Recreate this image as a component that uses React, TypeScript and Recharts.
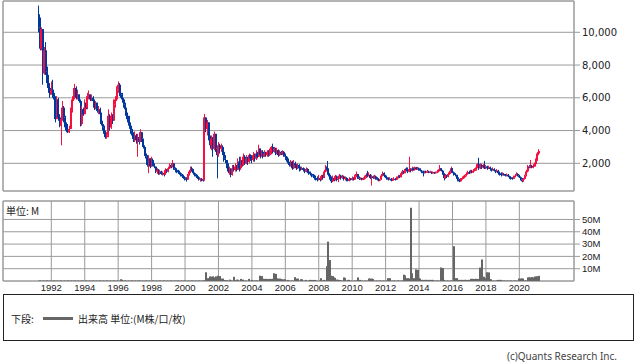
import React from 'react';
import { ComposedChart, Bar, XAxis, YAxis, CartesianGrid, ReferenceArea } from 'recharts';

// monthly candles, first month = Apr 1991
const startYear = 1991;
const startMonth = 4;
const firstOpen = 11100;

const closes = [
  10300, 9000, 10200, 7500, 8900, 7600, 6900, 6600, 6200, // 1991
  6500, 6100, 5900, 4700, 5900, 4800, 4300, 4700, 5400, 4800, 4200, 4050,
  3900, 4100, 5200, 5900, 6400, 6600, 6000, 6200, 5800, 4400, 5300, 5000,
  5700, 5400, 6100, 6200, 5900, 6000, 5800, 5400, 5700, 5200, 5300, 5000,
  4400, 4200, 3800, 3600, 3700, 4900, 4200, 4900, 4600, 5600, 5900, 6500, // 1995
  6800, 6300, 6200, 5900, 5600, 5300, 4900, 4700, 4300, 4000, 3700, 3500,
  3700, 3400, 3600, 3300, 3900, 3500, 3000, 2600, 2400, 1900, 2300, 1800,
  2200, 1900, 1800, 1500, 1600, 1400, 1500, 1350, 1400, 1300, 1600, 1500,
  1700, 1900, 1800, 2000, 1700, 1600, 1550, 1450, 1400, 1300, 1200, 1150,
  1050, 1000, 1300, 1500, 1700, 1600, 1400, 1300, 1200, 1150, 1050, 1050, // 2000
  1000, 950, 4800, 4100, 4500, 3600, 3100, 3500, 2900, 3800, 2900, 2500,
  3100, 2900, 3000, 2700, 2300, 2200, 1900, 1500, 1600, 1300, 1700, 1600,
  1800, 1600, 2100, 1700, 2200, 1900, 2400, 2000, 2300, 2100, 2500, 2300,
  2200, 2500, 2300, 2600, 2400, 2900, 2500, 2700, 2400, 2600, 2500, 2700,
  2500, 2800, 3000, 2700, 2900, 2600, 2800, 2500, 2700, 2600, 2700, 2500, // 2005
  2400, 2200, 2000, 1900, 2100, 1700, 2000, 1900, 1700, 1900, 1700, 1650,
  1700, 1600, 1500, 1650, 1500, 1400, 1350, 1250, 1200, 1100, 1050, 1000,
  1100, 1000, 1200, 1100, 1500, 1800, 1600, 1300, 1100, 900, 1100, 1000,
  1200, 1000, 1150, 1250, 1100, 1200, 1050, 1100, 1000, 950, 1050, 1000,
  1100, 1000, 1200, 1350, 1150, 1050, 1100, 1000, 1050, 1150, 1300, 1250, // 2010
  1300, 1100, 1200, 1100, 1200, 1100, 1000, 950, 1000, 1250, 1400, 1250,
  1150, 1100, 1000, 1050, 950, 1000, 1050, 1000, 1100, 1200, 1150, 1350,
  1500, 1400, 1650, 1600, 1500, 1650, 1550, 1700, 1600, 1750, 1650, 1700,
  1650, 1550, 1500, 1400, 1500, 1450, 1500, 1450, 1480, 1400, 1450, 1420,
  1450, 1500, 1550, 1700, 1550, 1400, 1100, 1250, 1200, 1350, 1450, 1700, // 2015
  1450, 1350, 1300, 1150, 1000, 900, 1050, 1100, 1150, 1250, 1350, 1450,
  1400, 1500, 1450, 1550, 1600, 1750, 1950, 1700, 1900, 1750, 1850, 1700,
  1800, 1700, 1750, 1650, 1600, 1650, 1550, 1500, 1550, 1400, 1350, 1300,
  1350, 1300, 1250, 1300, 1200, 1150, 1100, 1050, 1150, 1250, 1350, 1250,
  1150, 1000, 900, 1050, 1250, 1500, 1800, 1750, 1850, 1750, 1800, 1950, // 2020
  2200, 2600, 2750,
];

const highs = [
  11630, 10900, 10300, 9300, 9100, 9400, 7900, 7400, 6900,
  7000, 7100, 6300, 6100, 6100, 6000, 5000, 4900, 5800, 5500, 4900, 4500,
  4400, 4300, 5400, 6100, 6600, 6850, 6700, 6500, 6200, 5900, 5500, 5400,
  5900, 5900, 6300, 6450, 6200, 6200, 6100, 5900, 5800, 5700, 5500, 5400,
  5100, 4600, 4300, 4000, 3900, 5300, 5000, 5100, 5000, 5900, 6100, 6700,
  7000, 6900, 6600, 6300, 6000, 5700, 5400, 5100, 4900, 4500, 4100, 3900,
  3950, 3800, 3800, 3700, 4080, 3900, 3400, 3100, 2700, 2500, 2500, 2300,
  2400, 2300, 2000, 1800, 1700, 1650, 1600, 1550, 1500, 1450, 1700, 1650,
  1800, 2000, 2000, 2200, 2000, 1750, 1700, 1600, 1550, 1450, 1350, 1300,
  1200, 1150, 1350, 1600, 1800, 1800, 1650, 1450, 1350, 1300, 1200, 1100,
  1100, 1080, 5020, 4800, 4650, 4500, 3700, 3700, 3600, 3940, 3800, 3000,
  3300, 3200, 3200, 3100, 2800, 2500, 2200, 2000, 1800, 1700, 1900, 1900,
  2000, 1900, 2300, 2400, 2400, 2300, 2600, 2500, 2500, 2400, 2600, 2550,
  2500, 2700, 2600, 2800, 2700, 3140, 2900, 2800, 2800, 2800, 2700, 2800,
  2800, 2900, 3050, 3200, 3000, 2950, 2950, 2850, 2800, 2750, 2800, 2750,
  2600, 2450, 2300, 2100, 2200, 2150, 2200, 2100, 1950, 2000, 1950, 1800,
  1800, 1750, 1700, 1750, 1700, 1550, 1500, 1400, 1350, 1300, 1250, 1200,
  1300, 1200, 1300, 1300, 1600, 1900, 2140, 1700, 1400, 1200, 1250, 1200,
  1300, 1250, 1250, 1350, 1300, 1300, 1250, 1200, 1150, 1100, 1150, 1100,
  1200, 1150, 1300, 1500, 1350, 1200, 1150, 1120, 1150, 1250, 1400, 1540,
  1450, 1350, 1300, 1250, 1300, 1250, 1150, 1100, 1050, 1350, 1500, 1450,
  1300, 1200, 1150, 1150, 1100, 1080, 1150, 1100, 1200, 1300, 1280, 1400,
  1600, 1550, 1700, 1750, 1750, 2400, 1700, 1800, 1750, 1800, 1780, 1780,
  1750, 1700, 1600, 1550, 1550, 1550, 1600, 1550, 1550, 1500, 1500, 1480,
  1500, 1600, 1650, 1900, 1700, 1600, 1400, 1350, 1300, 1450, 1550, 1800,
  1700, 1500, 1400, 1300, 1200, 1050, 1100, 1200, 1250, 1300, 1450, 1550,
  1550, 1600, 1600, 1650, 1700, 1850, 2000, 2340, 2000, 1950, 1950, 2150,
  1900, 1850, 1850, 1800, 1700, 1750, 1700, 1600, 1650, 1600, 1500, 1450,
  1450, 1400, 1350, 1380, 1350, 1250, 1200, 1150, 1250, 1350, 1450, 1400,
  1300, 1200, 1100, 1100, 1300, 1600, 1900, 1900, 2200, 1900, 1950, 2050,
  2300, 2700, 2860,
];

const lows = [
  10000, 8900, 8900, 6800, 7400, 7400, 6800, 6300, 6000,
  6300, 6000, 5700, 4500, 4700, 4600, 4200, 3100, 4600, 4500, 4000, 3900,
  3850, 3850, 4100, 5100, 5800, 6200, 5900, 5900, 5700, 4250, 4300, 4900,
  5000, 5300, 5300, 5900, 5800, 5800, 5700, 5250, 5300, 5100, 5000, 4800,
  4300, 4000, 3600, 3500, 3500, 3600, 4000, 4100, 4400, 4600, 5400, 5800,
  6300, 6100, 6000, 5700, 5400, 5100, 4700, 4500, 4100, 3800, 3500, 3300,
  3300, 3200, 2400, 3150, 3300, 3300, 2900, 2450, 2300, 1800, 1400, 1700,
  1800, 1850, 1700, 1400, 1350, 1300, 1300, 1300, 1250, 1200, 1300, 1400,
  1450, 1650, 1700, 1750, 1600, 1450, 1400, 1350, 1300, 1200, 1100, 1050,
  950, 880, 980, 1250, 1400, 1500, 1300, 1200, 1100, 1050, 950, 880,
  900, 880, 950, 3900, 3700, 3400, 2900, 2800, 2400, 2800, 2700, 1080,
  2400, 2600, 2700, 2500, 2100, 2000, 1700, 1400, 1300, 1150, 1250, 1500,
  1500, 1500, 1600, 1500, 1600, 1800, 1850, 1900, 1950, 1900, 2000, 2150,
  2000, 2100, 2100, 2200, 2300, 2400, 2300, 2400, 2300, 2400, 2400, 2400,
  2400, 2450, 2550, 2600, 2650, 2500, 2550, 2400, 2450, 2500, 2500, 2400,
  2200, 2100, 1900, 1800, 1800, 1600, 1650, 1800, 1600, 1650, 1500, 1550,
  1600, 1500, 1400, 1450, 1400, 1300, 1250, 1150, 1100, 1000, 950, 900,
  950, 900, 950, 1000, 1100, 1450, 1500, 1200, 1000, 800, 850, 900,
  950, 900, 850, 1050, 1000, 1050, 950, 950, 900, 900, 900, 950,
  950, 950, 1000, 1150, 1050, 980, 1000, 960, 980, 1000, 1100, 1150,
  1200, 1050, 640, 1050, 1050, 1000, 950, 900, 900, 1000, 1200, 1150,
  1100, 1000, 950, 980, 900, 920, 980, 950, 980, 1080, 1100, 1150,
  1300, 1350, 1400, 1500, 1400, 1450, 1450, 1500, 1550, 1550, 1600, 1600,
  1550, 1500, 1400, 1200, 1380, 1400, 1420, 1400, 1400, 1350, 1380, 1360,
  1380, 1400, 1450, 1500, 1500, 1300, 960, 1050, 1100, 1150, 1300, 1400,
  1400, 1250, 1200, 1050, 900, 850, 880, 1000, 1050, 1100, 1200, 1300,
  1350, 1380, 1400, 1420, 1500, 1550, 1700, 1600, 1650, 1650, 1700, 1650,
  1650, 1600, 1650, 1550, 1500, 1550, 1500, 1400, 1450, 1300, 1250, 1200,
  1250, 1250, 1200, 1200, 1150, 1050, 1000, 1000, 1050, 1150, 1250, 1200,
  1100, 950, 840, 880, 1000, 1200, 1450, 1700, 1700, 1700, 1700, 1800,
  1900, 2150, 2500,
];

// monthly volume, millions
const volumes = [
  0.3, 0.3, 0.3, 0.3, 0.3, 0.3, 0.3, 0.3, 0.3, // 1991
  0.3, 0.3, 0.3, 0.3, 0.3, 0.3, 0.3, 0.3, 0.3, 0.3, 0.3, 0.3,
  0.3, 0.3, 0.3, 0.3, 0.3, 0.3, 0.3, 0.3, 0.3, 0.3, 0.3, 0.3,
  0.3, 0.3, 0.3, 0.3, 0.3, 0.3, 0.3, 0.3, 0.3, 0.3, 0.3, 0.3,
  0.3, 0.3, 0.3, 0.3, 0.3, 0.3, 0.3, 0.3, 0.3, 0.3, 0.3, 0.3,
  0.3, 0.3, 1.4, 1.0, 0.3, 0.3, 0.3, 0.3, 0.3, 0.3, 0.3, 0.3, // 1996
  0.3, 0.3, 0.3, 0.3, 0.3, 0.3, 0.3, 0.3, 0.3, 0.3, 0.3, 0.3,
  0.3, 0.3, 0.3, 0.3, 0.3, 0.3, 0.3, 0.3, 0.3, 0.3, 0.3, 0.3,
  0.3, 0.3, 0.3, 0.3, 0.3, 0.3, 0.3, 0.3, 0.3, 0.3, 0.3, 0.3,
  0.3, 0.3, 0.3, 0.3, 0.3, 0.3, 0.3, 0.3, 0.3, 0.3, 0.3, 0.3,
  0.3, 0.3, 0.5, 7.1, 2.3, 2.3, 3.7, 3.5, 3.8, 3.0, 3.7, 1.0, // 2001
  4.3, 4.0, 2.0, 2.0, 0.5, 0.7, 0.6, 0.3, 1.1, 0.3, 0.3, 3.4,
  0.6, 1.1, 1.0, 0.3, 1.7, 0.4, 1.1, 0.3, 0.3, 0.2, 1.7, 0.3,
  0.9, 0.3, 0.4, 0.2, 0.5, 0.3, 4.3, 4.0, 1.7, 1.7, 1.8, 1.6,
  1.7, 1.5, 1.7, 1.8, 6.3, 5.8, 2.0, 2.0, 2.0, 1.4, 1.5, 1.3,
  1.4, 0.4, 0.9, 0.3, 0.3, 0.4, 0.3, 3.1, 2.0, 2.0, 0.3, 1.4, // 2006
  1.4, 0.3, 0.3, 0.9, 0.3, 0.2, 0.9, 0.9, 0.8, 0.9, 0.2, 0.3,
  0.2, 0.3, 2.3, 0.4, 0.9, 0.5, 12, 32, 17, 4.3, 4.0, 2.9,
  2.5, 1.1, 1.0, 0.8, 0.3, 0.3, 2.9, 2.5, 0.3, 0.9, 0.9, 0.3,
  0.2, 0.3, 0.2, 0.4, 2.9, 0.4, 0.9, 0.3, 0.2, 0.3, 0.2, 0.3,
  2.0, 2.0, 2.0, 1.6, 0.3, 0.3, 0.3, 0.3, 0.3, 0.3, 0.3, 0.3, // 2011
  0.3, 0.3, 2.3, 2.3, 0.3, 0.3, 0.3, 0.3, 0.3, 0.3, 0.3, 0.3,
  0.3, 5.1, 4.5, 2.3, 2.3, 2.0, 59.5, 6.3, 2.3, 2.3, 9.4, 9.0,
  2.3, 2.0, 0.9, 0.9, 0.9, 0.9, 0.9, 0.9, 0.9, 0.9, 0.9, 0.3,
  0.3, 0.3, 0.3, 0.3, 11, 10.5, 0.9, 0.3, 0.3, 0.3, 0.3, 0.3,
  0.3, 28.3, 2.3, 2.3, 0.9, 0.9, 0.9, 0.9, 0.9, 0.9, 0.9, 0.9, // 2016
  0.9, 1.7, 1.7, 1.7, 1.7, 1.7, 1.7, 1.7, 10.9, 17.5, 3.4, 3.4,
  2.3, 7.1, 7.0, 1.4, 1.4, 0.3, 0.3, 0.3, 0.3, 0.9, 0.9, 0.9,
  0.3, 0.3, 0.3, 0.3, 0.3, 0.3, 0.3, 0.3, 0.3, 0.3, 0.3, 0.3,
  2.0, 2.0, 2.0, 2.0, 0.4, 0.4, 2.9, 2.9, 2.9, 3.2, 2.9, 3.7, // 2020
  3.0, 3.9, 4.2,
];

const yearTicks = [1992, 1994, 1996, 1998, 2000, 2002, 2004, 2006, 2008, 2010, 2012, 2014, 2016, 2018, 2020];
const priceTicks = [2000, 4000, 6000, 8000, 10000];
const volumeTicks = [10, 20, 30, 40, 50];

const X_DOMAIN = [1989.11, 2023.27];
const PRICE_DOMAIN = [310, 11910];
const VOL_DOMAIN = [0, 65];

const RED = '#f5103f';
const BLUE = '#00389e';
const GRID = '#9a9a9a';

const data = closes.map((c, i) => {
  const open = i === 0 ? firstOpen : closes[i - 1];
  const hi = Math.max(highs[i], open, c);
  const lo = Math.min(lows[i], open, c);
  return {
    t: startYear + (startMonth - 1 + i) / 12,
    open,
    close: c,
    range: [lo, hi],
    vol: volumes[i],
  };
});

const Candle = (props: any) => {
  const { x, y, width, height, payload } = props;
  if (x == null || !payload) return null;
  const top = Math.min(y, y + height);
  const h = Math.abs(height);
  const [lo, hi] = payload.range;
  const pos = (v: number) => top + ((hi - v) / (hi - lo)) * h;
  const cx = x + width / 2;
  const color = payload.close >= payload.open ? RED : BLUE;
  const yo = pos(payload.open);
  const yc = pos(payload.close);
  const bt = Math.min(yo, yc);
  const bh = Math.max(Math.abs(yo - yc), 1);
  return (
    <g>
      <rect x={Math.round(cx - 0.5)} y={top} width={1} height={h} fill={color} />
      <rect x={Math.round(cx - 1)} y={bt} width={2} height={bh} fill={color} />
    </g>
  );
};

const VolBar = (props: any) => {
  const { x, y, width, height } = props;
  if (x == null || !height) return null;
  const cx = x + width / 2;
  return <rect x={Math.round(cx - 1)} y={y} width={2} height={height} fill="#666" />;
};

const axisFont = 'Liberation Sans, Arial, sans-serif';

export default function App() {
  return (
    <div style={{ position: 'absolute', left: 0, top: 0, width: 638, height: 362, background: '#fff', overflow: 'hidden' }}>
      <div style={{ position: 'absolute', left: 0, top: 0 }}>
        <ComposedChart width={638} height={192} data={data} margin={{ top: 1, right: 0, bottom: 1, left: 3 }}>
          <CartesianGrid stroke={GRID} />
          <XAxis dataKey="t" type="number" domain={X_DOMAIN} allowDataOverflow ticks={yearTicks} height={0} tick={false} axisLine={false} tickLine={false} />
          <YAxis
            orientation="right"
            width={64}
            domain={PRICE_DOMAIN}
            allowDataOverflow
            ticks={priceTicks}
            interval={0}
            axisLine={false}
            tickLine={{ stroke: GRID }}
            tickSize={6}
            tickFormatter={(v: number) => v.toLocaleString('en-US')}
            tick={{ fontSize: 10, fill: '#222', fontFamily: 'DejaVu Sans, sans-serif' }}
          />
          <ReferenceArea x1={X_DOMAIN[0]} x2={X_DOMAIN[1]} y1={PRICE_DOMAIN[0]} y2={PRICE_DOMAIN[1]} fill="none" stroke={GRID} strokeOpacity={1} />
          <Bar dataKey="range" shape={<Candle />} isAnimationActive={false} />
        </ComposedChart>
      </div>
      <div style={{ position: 'absolute', left: 0, top: 200 }}>
        <ComposedChart width={638} height={96} data={data} margin={{ top: 1, right: 0, bottom: 0, left: 3 }}>
          <CartesianGrid stroke={GRID} />
          <XAxis
            dataKey="t"
            type="number"
            domain={X_DOMAIN}
            allowDataOverflow
            ticks={yearTicks}
            interval={0}
            height={15}
            tickSize={0}
            tickMargin={3}
            axisLine={false}
            tickLine={false}
            tick={{ fontSize: 9.5, fill: '#222', fontFamily: axisFont }}
          />
          <YAxis
            orientation="right"
            width={64}
            domain={VOL_DOMAIN}
            allowDataOverflow
            ticks={volumeTicks}
            interval={0}
            axisLine={false}
            tickLine={{ stroke: GRID }}
            tickSize={6}
            tickFormatter={(v: number) => `${v}M`}
            tick={{ fontSize: 9.5, fill: '#222', fontFamily: axisFont }}
          />
          <ReferenceArea x1={X_DOMAIN[0]} x2={X_DOMAIN[1]} y1={VOL_DOMAIN[0]} y2={VOL_DOMAIN[1]} fill="none" stroke={GRID} strokeOpacity={1} />
          <Bar dataKey="vol" shape={<VolBar />} isAnimationActive={false} />
        </ComposedChart>
      </div>
      <div style={{ position: 'absolute', left: 6, top: 203, fontSize: 10, color: '#222', fontFamily: 'Noto Sans CJK JP, sans-serif' }}>
        単位: M
      </div>
      <div
        style={{
          position: 'absolute',
          left: 3,
          top: 294,
          width: 631,
          height: 47,
          boxSizing: 'border-box',
          border: '1px solid #222',
          fontFamily: 'Noto Sans CJK JP, sans-serif',
          fontSize: 10,
          color: '#222',
        }}
      >
        <span style={{ position: 'absolute', left: 7, top: 16 }}>下段:</span>
        <span style={{ position: 'absolute', left: 39, top: 22, width: 30, height: 3, background: '#666' }} />
        <span style={{ position: 'absolute', left: 74, top: 16, whiteSpace: 'nowrap' }}>出来高 単位:(M株/口/枚)</span>
      </div>
      <div style={{ position: 'absolute', right: 21, top: 349, fontSize: 10, color: '#444', fontFamily: 'Noto Sans, sans-serif' }}>
        (c)Quants Research Inc.
      </div>
    </div>
  );
}
